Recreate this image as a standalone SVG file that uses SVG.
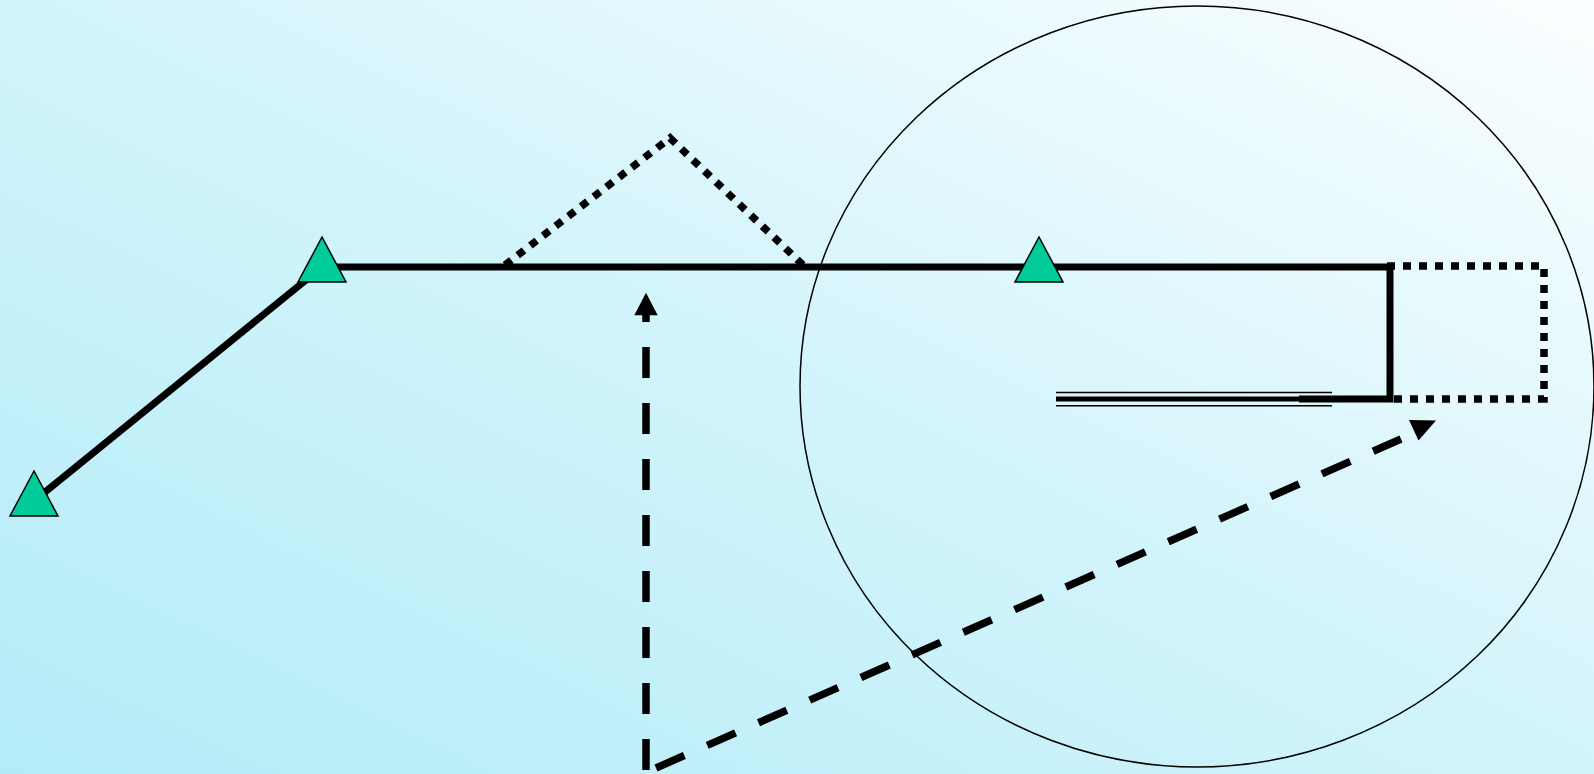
<svg xmlns="http://www.w3.org/2000/svg" width="1594" height="774" viewBox="0 0 1594 774">
  <defs>
    <linearGradient id="bg" x1="0" y1="1" x2="1" y2="0">
      <stop offset="0" stop-color="#b3ecf8"/>
      <stop offset="0.5" stop-color="#d2f4fb"/>
      <stop offset="1" stop-color="#fbfeff"/>
    </linearGradient>
    <style>
      .tri { fill: #00cc99; stroke: #000; stroke-width: 1.5; stroke-linejoin: miter; }
      .solid { fill: none; stroke: #000; stroke-width: 7; stroke-linejoin: miter; stroke-linecap: butt; }
      .dotted { fill: none; stroke: #000; stroke-width: 7.5; stroke-dasharray: 8 8; stroke-linecap: butt; }
      .dashed { fill: none; stroke: #000; stroke-width: 7.5; stroke-dasharray: 31 25; stroke-linecap: butt; }
      .thin { fill: none; stroke: #000; stroke-width: 1.5; }
      .head { fill: #000; stroke: none; }
    </style>
  </defs>
  <rect x="0" y="0" width="1594" height="774" fill="url(#bg)"/>

  <g id="region">
    <ellipse cx="1197" cy="386.5" rx="397" ry="380.5" class="thin"/>
  </g>

  <g id="connectors">
    <line x1="34" y1="501" x2="322" y2="267" class="solid"/>
    <path d="M322,267 H1390 V399 H1299" class="solid"/>
    <path d="M505,265 L670,138 L803,265" class="dotted"/>
    <path d="M1387,266 H1544 V399 H1394" class="dotted"/>
    <line x1="1056" y1="392.5" x2="1332" y2="392.5" class="thin"/>
    <line x1="1056" y1="399" x2="1332" y2="399" stroke="#000" stroke-width="5"/>
    <line x1="1056" y1="405.7" x2="1332" y2="405.7" class="thin"/>
    <path d="M646,770 V315" class="dashed"/>
    <polygon points="646,292.7 634.3,315.3 657.7,315.3" class="head"/>
    <path d="M656,768 L1401,439" class="dashed"/>
    <polygon points="1409,420 1436,420.5 1418.5,440.5" class="head"/>
  </g>

  <g id="node-a">
    <polygon points="34,471 10,516 58,516" class="tri"/>
  </g>
  <g id="node-b">
    <polygon points="322,237 298,282 346,282" class="tri"/>
  </g>
  <g id="node-c">
    <polygon points="1039,237 1015,282 1063,282" class="tri"/>
  </g>
</svg>
